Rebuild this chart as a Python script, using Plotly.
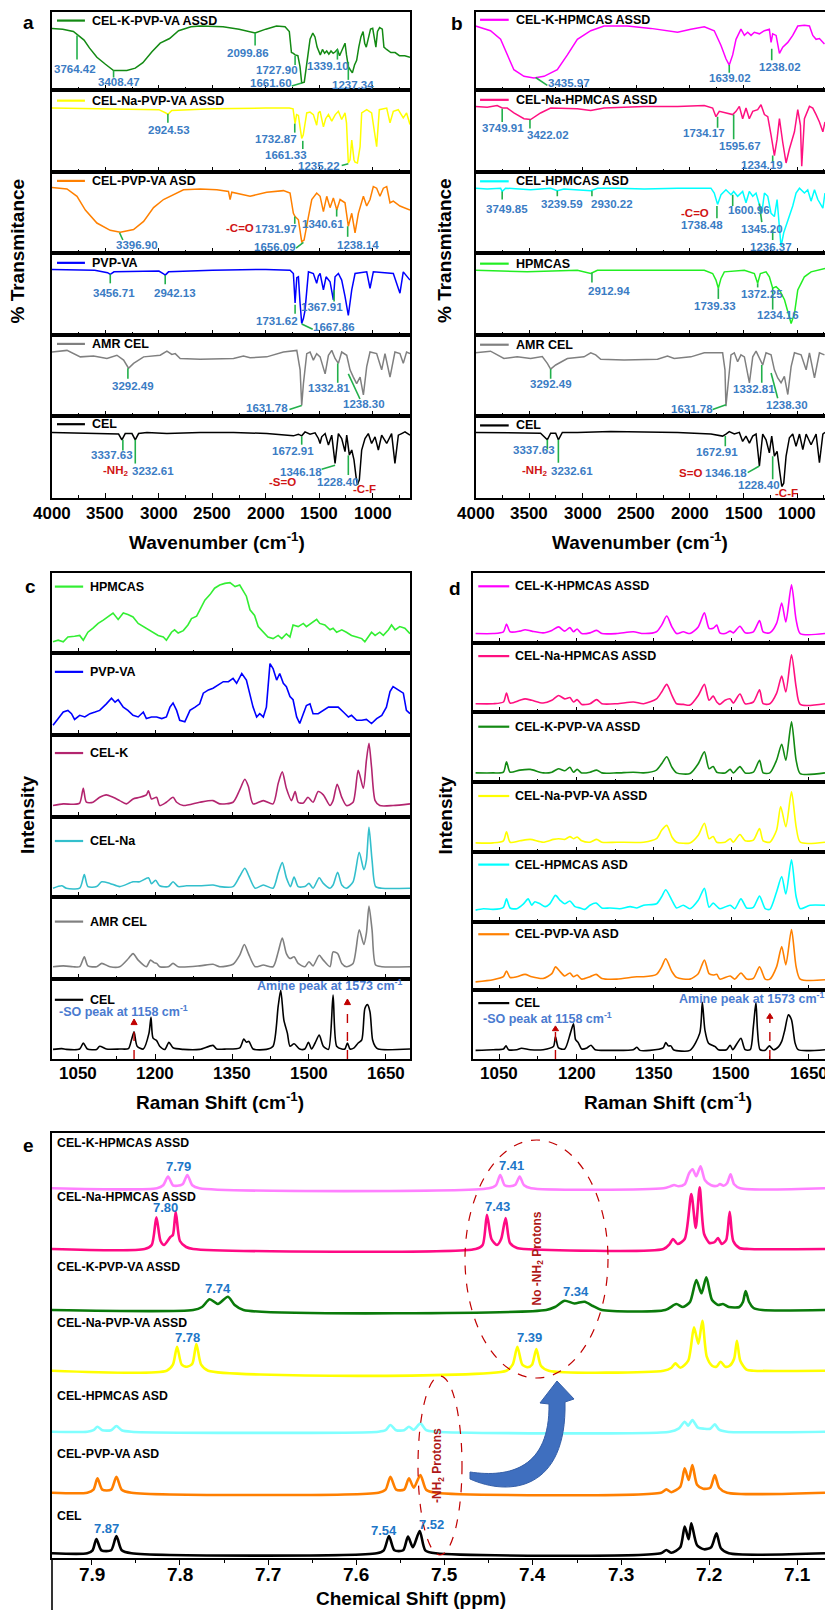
import plotly.graph_objects as go

W, H = 825, 1610
FONT = "Liberation Sans, Arial, Helvetica, sans-serif"

# ---------------- DATA: FTIR (wavenumber, relative transmittance within strip) ----------------
ir_a_names = ["CEL-K-PVP-VA ASSD", "CEL-Na-PVP-VA ASSD", "CEL-PVP-VA ASD", "PVP-VA", "AMR CEL", "CEL"]
ir_b_names = ["CEL-K-HPMCAS ASSD", "CEL-Na-HPMCAS ASSD", "CEL-HPMCAS ASD", "HPMCAS", "AMR CEL", "CEL"]

a1 = [(4000,0.79),(3900,0.78),(3800,0.75),(3766,0.71),(3700,0.64),(3650,0.54),(3580,0.42),(3500,0.33),(3424,0.25),(3300,0.25),(3221,0.28),(3150,0.35),(3065,0.49),(2988,0.60),(2900,0.66),(2816,0.76),(2700,0.81),(2614,0.82),(2400,0.81),(2250,0.78),(2100,0.73),(2000,0.78),(1900,0.82),(1820,0.81),(1780,0.75),(1760,0.48),(1742,0.47),(1726,0.45),(1700,0.44),(1680,0.30),(1664,0.09),(1640,0.10),(1620,0.30),(1600,0.55),(1586,0.65),(1560,0.73),(1540,0.68),(1520,0.55),(1508,0.50),(1490,0.45),(1470,0.52),(1450,0.47),(1430,0.50),(1410,0.46),(1390,0.50),(1370,0.47),(1350,0.49),(1330,0.52),(1310,0.44),(1290,0.50),(1270,0.55),(1259,0.60),(1245,0.45),(1228,0.30),(1210,0.26),(1190,0.22),(1170,0.32),(1150,0.38),(1130,0.55),(1110,0.68),(1090,0.75),(1075,0.60),(1060,0.55),(1040,0.68),(1020,0.78),(1000,0.79),(985,0.65),(970,0.55),(955,0.75),(935,0.80),(910,0.78),(895,0.55),(870,0.52),(830,0.48),(790,0.48),(750,0.44),(700,0.44),(651,0.42)]
a2 = [(4000,0.78),(3500,0.77),(3000,0.76),(2935,0.72),(2916,0.70),(2880,0.75),(2500,0.77),(2000,0.78),(1780,0.78),(1745,0.77),(1726,0.59),(1712,0.70),(1695,0.69),(1680,0.55),(1664,0.41),(1650,0.45),(1617,0.72),(1586,0.73),(1555,0.70),(1524,0.57),(1508,0.72),(1492,0.74),(1461,0.55),(1440,0.65),(1414,0.70),(1383,0.62),(1350,0.70),(1321,0.74),(1290,0.64),(1259,0.72),(1245,0.60),(1228,0.11),(1212,0.15),(1196,0.39),(1175,0.15),(1165,0.12),(1143,0.11),(1118,0.31),(1103,0.72),(1056,0.76),(1010,0.72),(963,0.31),(950,0.50),(938,0.76),(869,0.78),(845,0.65),(838,0.60),(807,0.74),(761,0.76),(714,0.66),(683,0.72),(651,0.58)]
a3 = [(4000,0.81),(3860,0.79),(3766,0.70),(3688,0.53),(3580,0.37),(3455,0.28),(3361,0.255),(3237,0.29),(3143,0.39),(3050,0.56),(2957,0.66),(2863,0.72),(2770,0.78),(2614,0.79),(2458,0.78),(2349,0.76),(2334,0.66),(2318,0.75),(2147,0.70),(1991,0.75),(1835,0.77),(1773,0.74),(1742,0.49),(1726,0.45),(1695,0.41),(1664,0.14),(1642,0.16),(1601,0.45),(1570,0.66),(1524,0.74),(1492,0.70),(1461,0.51),(1430,0.70),(1399,0.56),(1368,0.68),(1336,0.53),(1305,0.66),(1259,0.62),(1228,0.33),(1196,0.49),(1165,0.25),(1134,0.49),(1087,0.70),(1056,0.58),(1025,0.66),(994,0.82),(963,0.80),(932,0.70),(900,0.80),(869,0.82),(838,0.62),(807,0.64),(745,0.58),(651,0.53)]
a4 = [(4000,0.80),(3600,0.79),(3480,0.76),(3455,0.74),(3420,0.77),(3200,0.78),(3000,0.78),(2960,0.75),(2941,0.73),(2910,0.77),(2500,0.79),(2000,0.80),(1773,0.79),(1742,0.75),(1726,0.39),(1710,0.70),(1695,0.71),(1680,0.40),(1664,0.14),(1648,0.20),(1633,0.30),(1601,0.77),(1555,0.75),(1524,0.63),(1508,0.72),(1492,0.75),(1461,0.55),(1436,0.71),(1399,0.65),(1368,0.43),(1352,0.71),(1321,0.75),(1290,0.67),(1259,0.47),(1228,0.24),(1196,0.55),(1165,0.75),(1056,0.77),(1025,0.57),(994,0.77),(807,0.75),(745,0.51),(714,0.77),(651,0.67)]
a5 = [(4000,0.79),(3860,0.81),(3735,0.73),(3611,0.74),(3486,0.71),(3393,0.75),(3330,0.69),(3284,0.59),(3237,0.65),(3143,0.73),(2988,0.75),(2925,0.80),(2879,0.76),(2847,0.77),(2801,0.71),(2614,0.70),(2302,0.71),(2209,0.74),(2147,0.72),(1991,0.73),(1835,0.79),(1710,0.81),(1679,0.57),(1664,0.13),(1648,0.40),(1617,0.77),(1586,0.79),(1555,0.69),(1524,0.77),(1492,0.73),(1445,0.52),(1414,0.75),(1383,0.81),(1352,0.71),(1321,0.65),(1290,0.79),(1243,0.75),(1212,0.57),(1181,0.48),(1150,0.40),(1118,0.48),(1087,0.26),(1056,0.61),(1025,0.79),(963,0.77),(916,0.57),(885,0.77),(838,0.48),(792,0.79),(745,0.77),(714,0.65),(683,0.79),(651,0.77)]
a6 = [(4000,0.80),(3500,0.79),(3424,0.786),(3377,0.78),(3346,0.71),(3315,0.786),(3252,0.786),(3221,0.71),(3190,0.786),(3112,0.80),(2925,0.786),(2614,0.80),(2302,0.80),(1991,0.786),(1742,0.758),(1695,0.778),(1664,0.758),(1633,0.806),(1586,0.778),(1539,0.794),(1508,0.726),(1492,0.665),(1477,0.746),(1445,0.786),(1414,0.645),(1383,0.766),(1352,0.423),(1321,0.786),(1290,0.726),(1259,0.565),(1243,0.766),(1218,0.524),(1196,0.585),(1175,0.464),(1156,0.262),(1143,0.161),(1125,0.222),(1103,0.585),(1072,0.726),(1041,0.786),(1010,0.665),(978,0.746),(947,0.585),(916,0.766),(869,0.665),(823,0.786),(792,0.423),(760,0.766),(729,0.786),(698,0.806),(651,0.766)]

b1 = [(4000,0.82),(3860,0.76),(3766,0.65),(3704,0.45),(3642,0.26),(3548,0.175),(3455,0.155),(3361,0.175),(3237,0.26),(3143,0.45),(3050,0.65),(2925,0.76),(2801,0.82),(2583,0.82),(2365,0.79),(2115,0.74),(1991,0.78),(1866,0.81),(1773,0.76),(1710,0.57),(1664,0.40),(1633,0.32),(1601,0.45),(1570,0.65),(1524,0.78),(1492,0.70),(1461,0.74),(1430,0.70),(1399,0.74),(1352,0.72),(1305,0.76),(1259,0.78),(1243,0.61),(1228,0.72),(1196,0.70),(1165,0.47),(1134,0.55),(1087,0.61),(1041,0.70),(994,0.82),(932,0.83),(885,0.82),(854,0.70),(823,0.65),(792,0.66),(745,0.59)]
b2 = [(4000,0.80),(3891,0.79),(3798,0.81),(3751,0.78),(3704,0.78),(3642,0.72),(3548,0.65),(3486,0.64),(3393,0.72),(3299,0.78),(3050,0.77),(2925,0.75),(2801,0.78),(2427,0.80),(2115,0.80),(1866,0.81),(1788,0.78),(1757,0.675),(1726,0.74),(1664,0.72),(1601,0.70),(1570,0.74),(1539,0.80),(1508,0.65),(1477,0.78),(1446,0.65),(1414,0.74),(1368,0.76),(1337,0.82),(1305,0.70),(1274,0.675),(1243,0.45),(1212,0.20),(1187,0.40),(1165,0.65),(1134,0.36),(1103,0.11),(1072,0.28),(1025,0.49),(994,0.76),(969,0.57),(957,0.07),(932,0.65),(885,0.80),(854,0.78),(823,0.70),(792,0.61),(760,0.49),(740,0.61)]
b3 = [(4000,0.80),(3891,0.79),(3766,0.80),(3751,0.76),(3720,0.80),(3611,0.79),(3486,0.78),(3299,0.80),(3237,0.77),(3175,0.79),(3050,0.78),(2925,0.77),(2863,0.80),(2676,0.80),(2427,0.79),(2115,0.80),(1804,0.80),(1773,0.74),(1742,0.60),(1710,0.72),(1664,0.78),(1617,0.72),(1592,0.76),(1555,0.70),(1508,0.76),(1477,0.62),(1446,0.76),(1414,0.70),(1383,0.74),(1352,0.60),(1330,0.49),(1305,0.74),(1274,0.70),(1243,0.49),(1212,0.45),(1187,0.66),(1165,0.25),(1150,0.08),(1125,0.25),(1103,0.33),(1072,0.45),(1041,0.58),(1010,0.74),(978,0.80),(932,0.74),(901,0.78),(870,0.64),(838,0.78),(807,0.66),(760,0.555),(740,0.74)]
b4 = [(4000,0.79),(3518,0.77),(3050,0.79),(2925,0.75),(2863,0.79),(2427,0.79),(1866,0.79),(1788,0.75),(1757,0.67),(1735,0.57),(1710,0.69),(1679,0.77),(1492,0.79),(1399,0.75),(1368,0.63),(1343,0.75),(1290,0.77),(1259,0.71),(1228,0.57),(1196,0.59),(1165,0.55),(1118,0.43),(1056,0.14),(1025,0.26),(994,0.55),(963,0.63),(932,0.71),(870,0.77),(807,0.79),(740,0.81)]
b5 = [(4000,0.78),(3860,0.80),(3735,0.71),(3611,0.73),(3486,0.71),(3377,0.735),(3330,0.65),(3299,0.58),(3252,0.63),(3143,0.71),(2988,0.73),(2925,0.78),(2879,0.755),(2832,0.70),(2614,0.69),(2302,0.70),(2209,0.74),(2147,0.71),(1991,0.73),(1866,0.78),(1695,0.78),(1673,0.57),(1664,0.12),(1642,0.45),(1617,0.755),(1586,0.78),(1555,0.67),(1524,0.755),(1492,0.73),(1445,0.41),(1414,0.73),(1383,0.80),(1352,0.71),(1321,0.63),(1290,0.78),(1243,0.755),(1212,0.57),(1181,0.47),(1150,0.41),(1119,0.49),(1087,0.265),(1056,0.61),(1025,0.78),(963,0.755),(916,0.57),(885,0.78),(838,0.47),(792,0.78),(745,0.755)]
b6 = [(4000,0.80),(3393,0.79),(3330,0.71),(3299,0.79),(3252,0.79),(3227,0.71),(3190,0.80),(3050,0.80),(2738,0.81),(2115,0.80),(1804,0.78),(1695,0.755),(1664,0.78),(1633,0.81),(1586,0.78),(1539,0.80),(1508,0.69),(1477,0.755),(1445,0.67),(1414,0.755),(1383,0.78),(1352,0.39),(1321,0.78),(1290,0.71),(1259,0.55),(1237,0.755),(1212,0.51),(1187,0.57),(1165,0.35),(1143,0.14),(1125,0.18),(1103,0.51),(1072,0.735),(1041,0.78),(1010,0.63),(978,0.78),(947,0.59),(916,0.78),(870,0.65),(823,0.78),(792,0.43),(760,0.78),(740,0.80)]

# peak labels: (text, text_x, text_y, line_x0, line_y0, line_x1, line_y1)
a1_lab = [("3764.42",3782,0.27,3766,0.70,3766,0.39),("3408.47",3377,0.10,3424,0.25,3424,0.16),("2099.86",2162,0.48,2100,0.73,2100,0.57),("1727.90",1891,0.26,1726,0.44,1726,0.32),("1661.60",1953,0.09,1757,0.05,1664,0.09),("1339.10",1414,0.31,1330,0.52,1330,0.39),("1237.34",1187,0.06,1228,0.36,1228,0.13)]
a2_lab = [("2924.53",2910,0.51,2916,0.71,2916,0.60),("1732.87",1904,0.40,1729,0.59,1729,0.48),("1661.33",1810,0.21,1654,0.38,1654,0.28),("1235.22",1499,0.07,1290,0.08,1228,0.10)]
a3_lab = [("3396.90",3206,0.095,3368,0.25,3337,0.16),("1731.97",1904,0.30,1729,0.45,1729,0.36),("1656.09",1913,0.08,1717,0.06,1648,0.13),("1340.61",1467,0.36,1337,0.54,1337,0.45),("1238.14",1140,0.10,1234,0.33,1234,0.20)]
a4_lab = [("3456.71",3424,0.51,3455,0.74,3455,0.63),("2942.13",2854,0.51,2941,0.73,2941,0.62),("1731.62",1897,0.17,1726,0.37,1726,0.26),("1667.86",1358,0.10,1664,0.134,1561,0.07),("1367.91",1477,0.34,1361,0.55,1361,0.41)]
a5_lab = [("3292.49",3246,0.37,3290,0.59,3290,0.46),("1631.78",1991,0.10,1779,0.08,1664,0.13),("1332.81",1408,0.34,1327,0.65,1327,0.41),("1238.30",1078,0.15,1228,0.52,1119,0.21)]
a6_lab = [("3337.63",3439,0.52,3337,0.71,3337,0.58),("3232.61",3059,0.33,3221,0.71,3221,0.42),("1672.91",1742,0.57,1664,0.75,1664,0.65),("1346.18",1673,0.32,1477,0.35,1352,0.40),("1228.40",1321,0.19,1228,0.52,1228,0.28)]
b1_lab = [("3435.97",3128,0.09,3439,0.16,3330,0.06),("1639.02",1623,0.15,1633,0.32,1633,0.22),("1238.02",1156,0.29,1237,0.53,1237,0.38)]
b2_lab = [("3749.91",3741,0.54,3751,0.77,3751,0.61),("3422.02",3324,0.45,3492,0.64,3492,0.53),("1734.17",1872,0.47,1742,0.675,1742,0.54),("1595.67",1530,0.32,1592,0.70,1592,0.40),("1234.19",1330,0.08,1228,0.20,1228,0.11)]
b3_lab = [("3749.85",3710,0.54,3751,0.76,3751,0.66),("3239.59",3190,0.60,3237,0.77,3237,0.70),("2930.22",2729,0.60,2914,0.77,2914,0.70),("1738.48",1891,0.35,1748,0.58,1748,0.43),("1600.96",1446,0.53,1601,0.72,1601,0.58),("1345.20",1327,0.30,1352,0.61,1330,0.38),("1236.37",1243,0.08,1228,0.29,1228,0.16)]
b4_lab = [("2912.94",2754,0.54,2914,0.76,2914,0.64),("1739.33",1763,0.35,1735,0.57,1735,0.44),("1372.25",1327,0.50,1368,0.63,1368,0.58),("1234.16",1175,0.24,1228,0.57,1228,0.31)]
b5_lab = [("3292.49",3293,0.39,3299,0.58,3299,0.46),("1631.78",1981,0.09,1788,0.08,1664,0.14),("1332.81",1399,0.33,1330,0.63,1330,0.41),("1238.30",1090,0.14,1243,0.53,1181,0.22)]
b6_lab = [("3337.63",3455,0.58,3330,0.71,3330,0.59),("3232.61",3103,0.33,3227,0.71,3227,0.43),("1672.91",1748,0.56,1670,0.755,1670,0.63),("1346.18",1664,0.31,1461,0.31,1352,0.39),("1228.40",1352,0.155,1228,0.51,1228,0.23)]
# group labels in red: (text, x, y)
a3_red = [("-C=O",2246,0.31)]
a6_red = [("-NH<sub>2</sub>",3402,0.33),("-S=O",1841,0.20),("-C-F",1078,0.11)]
b3_red = [("-C=O",1953,0.50)]
b6_red = [("-NH<sub>2</sub>",3449,0.33),("S=O",1997,0.31),("-C-F",1103,0.06)]

# ---------------- DATA: Raman (shift, relative intensity within strip) ----------------
raman_c_names = ["HPMCAS", "PVP-VA", "CEL-K", "CEL-Na", "AMR CEL", "CEL"]
raman_d_names = ["CEL-K-HPMCAS ASSD", "CEL-Na-HPMCAS ASSD", "CEL-K-PVP-VA ASSD", "CEL-Na-PVP-VA ASSD", "CEL-HPMCAS ASD", "CEL-PVP-VA ASD", "CEL"]

c1 = [(1001,0.14),(1011,0.16),(1021,0.14),(1030,0.20),(1043,0.21),(1053,0.22),(1060,0.16),(1069,0.26),(1079,0.31),(1089,0.37),(1099,0.41),(1108,0.45),(1118,0.50),(1128,0.42),(1138,0.50),(1147,0.48),(1157,0.45),(1167,0.37),(1177,0.33),(1186,0.29),(1196,0.25),(1206,0.22),(1216,0.20),(1222,0.16),(1232,0.26),(1238,0.29),(1245,0.25),(1255,0.28),(1264,0.35),(1271,0.43),(1281,0.46),(1290,0.58),(1297,0.66),(1307,0.73),(1316,0.81),(1326,0.85),(1336,0.87),(1346,0.88),(1356,0.83),(1365,0.85),(1372,0.77),(1378,0.71),(1385,0.54),(1394,0.47),(1401,0.33),(1411,0.26),(1420,0.20),(1430,0.18),(1440,0.22),(1447,0.18),(1456,0.24),(1463,0.20),(1469,0.35),(1479,0.33),(1489,0.37),(1495,0.33),(1505,0.37),(1515,0.42),(1521,0.37),(1531,0.35),(1541,0.29),(1547,0.31),(1554,0.26),(1564,0.29),(1573,0.26),(1583,0.22),(1593,0.20),(1603,0.18),(1609,0.14),(1616,0.20),(1622,0.26),(1629,0.22),(1638,0.26),(1645,0.22),(1655,0.29),(1661,0.35),(1668,0.29),(1677,0.33),(1687,0.31),(1697,0.24)]
c2 = [(1001,0.12),(1011,0.20),(1021,0.28),(1030,0.30),(1037,0.26),(1043,0.19),(1053,0.24),(1063,0.22),(1073,0.26),(1083,0.28),(1092,0.30),(1105,0.38),(1115,0.45),(1122,0.40),(1128,0.43),(1138,0.34),(1147,0.30),(1157,0.24),(1167,0.22),(1177,0.28),(1183,0.20),(1193,0.22),(1203,0.22),(1213,0.20),(1222,0.22),(1229,0.34),(1235,0.39),(1242,0.30),(1248,0.18),(1258,0.16),(1268,0.30),(1278,0.34),(1287,0.38),(1294,0.51),(1304,0.55),(1313,0.57),(1323,0.61),(1333,0.65),(1343,0.65),(1352,0.69),(1359,0.63),(1369,0.75),(1378,0.67),(1385,0.51),(1391,0.34),(1398,0.22),(1404,0.26),(1411,0.22),(1417,0.34),(1424,0.87),(1430,0.81),(1437,0.67),(1443,0.75),(1450,0.63),(1456,0.59),(1463,0.47),(1469,0.43),(1476,0.22),(1482,0.14),(1489,0.26),(1495,0.36),(1502,0.38),(1508,0.26),(1518,0.26),(1528,0.30),(1538,0.34),(1547,0.34),(1557,0.34),(1567,0.28),(1577,0.22),(1583,0.24),(1593,0.18),(1603,0.18),(1612,0.19),(1622,0.14),(1632,0.20),(1642,0.24),(1651,0.34),(1658,0.53),(1664,0.59),(1674,0.55),(1684,0.51),(1690,0.30),(1697,0.26)]
c3 = [(1001,0.14),(1021,0.16),(1040,0.155),(1053,0.17),(1060,0.35),(1066,0.18),(1079,0.18),(1092,0.24),(1105,0.27),(1118,0.24),(1131,0.20),(1144,0.16),(1157,0.22),(1170,0.24),(1183,0.27),(1187,0.32),(1193,0.22),(1203,0.24),(1209,0.14),(1222,0.18),(1235,0.24),(1242,0.18),(1255,0.14),(1287,0.18),(1313,0.20),(1326,0.16),(1352,0.18),(1365,0.33),(1375,0.46),(1382,0.37),(1391,0.16),(1411,0.20),(1430,0.16),(1440,0.41),(1448,0.55),(1456,0.35),(1466,0.20),(1473,0.31),(1479,0.18),(1489,0.17),(1498,0.24),(1508,0.18),(1518,0.31),(1528,0.27),(1541,0.14),(1547,0.20),(1555,0.40),(1564,0.24),(1573,0.14),(1586,0.18),(1596,0.57),(1606,0.35),(1612,0.69),(1617,0.90),(1622,0.61),(1629,0.20),(1638,0.14),(1664,0.14),(1697,0.16)]
c4 = [(1001,0.11),(1018,0.14),(1027,0.11),(1053,0.11),(1062,0.28),(1069,0.13),(1086,0.13),(1096,0.19),(1112,0.17),(1131,0.13),(1157,0.19),(1170,0.19),(1187,0.24),(1193,0.165),(1201,0.21),(1209,0.14),(1226,0.13),(1235,0.19),(1245,0.13),(1261,0.14),(1287,0.14),(1313,0.15),(1326,0.13),(1352,0.13),(1365,0.26),(1375,0.36),(1383,0.26),(1395,0.11),(1411,0.15),(1430,0.11),(1440,0.30),(1448,0.43),(1456,0.24),(1464,0.13),(1471,0.25),(1479,0.13),(1492,0.13),(1500,0.17),(1508,0.11),(1520,0.24),(1528,0.17),(1541,0.11),(1547,0.15),(1556,0.31),(1564,0.15),(1573,0.11),(1586,0.19),(1598,0.56),(1607,0.34),(1612,0.46),(1617,0.87),(1623,0.46),(1630,0.13),(1642,0.11),(1697,0.11)]
c5 = [(1001,0.15),(1021,0.16),(1040,0.15),(1053,0.15),(1062,0.27),(1069,0.16),(1086,0.15),(1096,0.19),(1112,0.15),(1131,0.15),(1148,0.25),(1157,0.31),(1167,0.23),(1183,0.15),(1191,0.23),(1198,0.20),(1203,0.19),(1209,0.15),(1226,0.15),(1235,0.19),(1245,0.15),(1287,0.16),(1313,0.18),(1326,0.15),(1352,0.18),(1365,0.29),(1374,0.42),(1382,0.31),(1395,0.15),(1411,0.17),(1430,0.15),(1440,0.33),(1448,0.50),(1456,0.31),(1463,0.25),(1471,0.27),(1479,0.19),(1492,0.15),(1500,0.21),(1508,0.16),(1520,0.29),(1528,0.23),(1541,0.15),(1547,0.33),(1556,0.31),(1564,0.19),(1573,0.15),(1586,0.19),(1598,0.60),(1607,0.42),(1612,0.56),(1617,0.89),(1623,0.60),(1630,0.17),(1642,0.15),(1697,0.15)]
c6 = [(1001,0.12),(1018,0.13),(1027,0.12),(1053,0.125),(1060,0.20),(1068,0.125),(1086,0.12),(1092,0.16),(1105,0.125),(1131,0.125),(1148,0.13),(1154,0.24),(1159,0.34),(1165,0.16),(1177,0.125),(1188,0.32),(1192,0.52),(1196,0.26),(1203,0.23),(1209,0.16),(1219,0.12),(1227,0.21),(1235,0.14),(1255,0.12),(1287,0.12),(1313,0.17),(1320,0.125),(1339,0.125),(1365,0.14),(1373,0.25),(1378,0.21),(1383,0.22),(1391,0.125),(1417,0.12),(1430,0.16),(1440,0.66),(1445,0.86),(1451,0.49),(1458,0.32),(1463,0.16),(1471,0.19),(1482,0.125),(1492,0.125),(1499,0.21),(1505,0.125),(1512,0.20),(1520,0.30),(1528,0.16),(1538,0.12),(1547,0.80),(1554,0.16),(1564,0.125),(1570,0.125),(1575,0.20),(1580,0.125),(1588,0.14),(1596,0.20),(1603,0.24),(1609,0.63),(1614,0.68),(1619,0.59),(1624,0.24),(1629,0.16),(1635,0.125),(1697,0.125)]

d1 = [(1004,0.135),(1038,0.135),(1058,0.16),(1064,0.27),(1071,0.16),(1090,0.17),(1100,0.19),(1113,0.17),(1135,0.145),(1152,0.18),(1165,0.23),(1177,0.17),(1187,0.22),(1194,0.16),(1201,0.20),(1210,0.135),(1226,0.145),(1239,0.18),(1249,0.135),(1278,0.135),(1310,0.16),(1330,0.135),(1355,0.16),(1365,0.255),(1375,0.385),(1385,0.23),(1394,0.135),(1407,0.16),(1420,0.135),(1436,0.23),(1448,0.43),(1457,0.21),(1465,0.21),(1472,0.255),(1478,0.145),(1488,0.135),(1498,0.17),(1504,0.145),(1517,0.24),(1527,0.145),(1543,0.16),(1555,0.32),(1562,0.16),(1575,0.145),(1588,0.28),(1598,0.57),(1606,0.30),(1617,0.83),(1626,0.33),(1634,0.135),(1682,0.135)]
d2 = [(1004,0.12),(1038,0.12),(1058,0.145),(1064,0.275),(1071,0.13),(1090,0.17),(1100,0.19),(1113,0.17),(1135,0.13),(1152,0.17),(1165,0.24),(1177,0.19),(1187,0.21),(1194,0.145),(1201,0.18),(1210,0.11),(1226,0.12),(1239,0.18),(1249,0.12),(1278,0.12),(1310,0.145),(1330,0.12),(1355,0.19),(1365,0.29),(1375,0.40),(1385,0.24),(1394,0.12),(1407,0.11),(1420,0.10),(1436,0.24),(1448,0.40),(1457,0.17),(1465,0.23),(1472,0.145),(1478,0.11),(1488,0.17),(1498,0.19),(1504,0.13),(1517,0.26),(1527,0.12),(1543,0.145),(1555,0.32),(1562,0.12),(1575,0.12),(1588,0.27),(1598,0.52),(1606,0.29),(1617,0.83),(1626,0.36),(1634,0.11),(1682,0.12)]
d3 = [(1004,0.13),(1038,0.13),(1058,0.14),(1064,0.29),(1071,0.14),(1090,0.17),(1110,0.18),(1135,0.13),(1152,0.14),(1165,0.19),(1177,0.16),(1187,0.21),(1194,0.14),(1201,0.18),(1210,0.13),(1226,0.14),(1239,0.17),(1249,0.13),(1278,0.13),(1310,0.14),(1330,0.13),(1355,0.17),(1365,0.26),(1375,0.36),(1385,0.21),(1394,0.13),(1420,0.12),(1436,0.26),(1448,0.43),(1457,0.19),(1465,0.22),(1472,0.14),(1488,0.13),(1498,0.18),(1504,0.13),(1517,0.22),(1527,0.13),(1543,0.14),(1555,0.31),(1562,0.13),(1575,0.13),(1588,0.31),(1598,0.54),(1606,0.31),(1617,0.86),(1626,0.31),(1634,0.12),(1682,0.13)]
d4 = [(1004,0.13),(1038,0.13),(1058,0.16),(1064,0.29),(1071,0.14),(1090,0.16),(1110,0.18),(1135,0.14),(1155,0.18),(1165,0.19),(1177,0.18),(1187,0.22),(1194,0.19),(1201,0.215),(1210,0.16),(1226,0.14),(1239,0.18),(1249,0.14),(1278,0.14),(1330,0.14),(1355,0.19),(1365,0.31),(1375,0.38),(1385,0.215),(1394,0.14),(1420,0.13),(1436,0.24),(1448,0.41),(1457,0.19),(1465,0.22),(1472,0.14),(1488,0.14),(1498,0.19),(1504,0.14),(1517,0.25),(1527,0.16),(1543,0.17),(1555,0.335),(1562,0.16),(1575,0.14),(1588,0.31),(1596,0.65),(1606,0.36),(1617,0.86),(1626,0.36),(1634,0.14),(1682,0.14)]
d5 = [(1004,0.17),(1019,0.19),(1038,0.18),(1058,0.21),(1064,0.33),(1071,0.20),(1084,0.19),(1097,0.26),(1106,0.33),(1113,0.24),(1119,0.29),(1129,0.26),(1139,0.22),(1148,0.26),(1159,0.38),(1168,0.31),(1177,0.26),(1187,0.30),(1197,0.22),(1207,0.20),(1216,0.18),(1226,0.24),(1238,0.27),(1249,0.20),(1265,0.20),(1284,0.19),(1304,0.22),(1317,0.20),(1330,0.24),(1355,0.26),(1365,0.36),(1373,0.46),(1385,0.31),(1394,0.20),(1407,0.24),(1420,0.19),(1436,0.31),(1448,0.48),(1457,0.21),(1465,0.27),(1478,0.19),(1498,0.24),(1507,0.19),(1519,0.33),(1530,0.20),(1543,0.21),(1555,0.37),(1566,0.19),(1575,0.18),(1588,0.43),(1598,0.65),(1606,0.40),(1617,0.89),(1626,0.36),(1634,0.19),(1653,0.24),(1682,0.24)]
d6 = [(1004,0.12),(1038,0.15),(1058,0.195),(1064,0.28),(1071,0.185),(1084,0.195),(1100,0.23),(1113,0.195),(1135,0.17),(1152,0.24),(1159,0.34),(1168,0.27),(1177,0.205),(1187,0.25),(1194,0.195),(1201,0.22),(1210,0.16),(1226,0.195),(1238,0.23),(1249,0.17),(1278,0.16),(1317,0.195),(1330,0.195),(1355,0.23),(1365,0.34),(1373,0.46),(1385,0.27),(1394,0.185),(1420,0.16),(1436,0.24),(1448,0.44),(1457,0.24),(1465,0.22),(1472,0.23),(1478,0.16),(1498,0.205),(1507,0.16),(1519,0.25),(1530,0.16),(1543,0.17),(1555,0.34),(1566,0.16),(1575,0.16),(1588,0.34),(1598,0.64),(1606,0.37),(1617,0.89),(1626,0.34),(1634,0.16),(1682,0.15)]
d7 = [(1004,0.125),(1038,0.135),(1058,0.145),(1063,0.19),(1068,0.135),(1084,0.135),(1093,0.155),(1110,0.135),(1135,0.135),(1155,0.18),(1159,0.32),(1165,0.16),(1177,0.145),(1188,0.375),(1194,0.51),(1198,0.28),(1203,0.24),(1210,0.145),(1220,0.16),(1228,0.20),(1236,0.135),(1265,0.125),(1310,0.135),(1317,0.17),(1323,0.125),(1342,0.125),(1368,0.16),(1373,0.24),(1378,0.19),(1383,0.19),(1388,0.135),(1420,0.125),(1439,0.375),(1444,0.82),(1449,0.42),(1456,0.23),(1469,0.18),(1475,0.135),(1491,0.135),(1498,0.20),(1503,0.135),(1511,0.22),(1519,0.30),(1527,0.135),(1537,0.135),(1543,0.47),(1548,0.82),(1551,0.42),(1556,0.135),(1566,0.125),(1574,0.19),(1582,0.135),(1592,0.18),(1598,0.255),(1604,0.42),(1611,0.64),(1617,0.57),(1624,0.23),(1630,0.135),(1682,0.135)]

# ---------------- DATA: 1H NMR (ppm, height above own baseline) ----------------
nmr_names = ["CEL-K-HPMCAS ASSD", "CEL-Na-HPMCAS ASSD", "CEL-K-PVP-VA ASSD", "CEL-Na-PVP-VA ASSD", "CEL-HPMCAS ASD", "CEL-PVP-VA ASD", "CEL"]
e1 = [(7.945,0),(7.826,0),(7.819,3),(7.8135,11.7),(7.808,3),(7.803,2.5),(7.797,4),(7.7916,13.3),(7.786,3),(7.778,0),(7.450,0),(7.442,3),(7.437,13.3),(7.432,3),(7.426,2),(7.420,3.5),(7.415,11.7),(7.410,3),(7.402,0),(7.252,0),(7.244,2),(7.240,3.3),(7.235,2),(7.228,4),(7.223,15),(7.219,19),(7.215,12),(7.210,22),(7.205,8),(7.198,3),(7.191,2.5),(7.188,4.3),(7.184,2.5),(7.180,5),(7.176,14),(7.172,4),(7.165,0),(7.069,0)]
e2 = [(7.945,0),(7.840,0),(7.832,4),(7.8267,31.7),(7.822,8),(7.818,4),(7.8108,12),(7.808,14),(7.8048,37.3),(7.800,8),(7.793,2),(7.785,0),(7.465,0),(7.457,4),(7.4521,34.3),(7.447,10),(7.4407,4),(7.436,10),(7.4309,31),(7.426,6),(7.418,1),(7.410,0),(7.252,0),(7.245,5),(7.2413,10),(7.236,5),(7.228,10),(7.2205,55),(7.2155,21),(7.211,61.7),(7.206,15),(7.200,6),(7.1978,6),(7.194,7),(7.1903,11),(7.186,5),(7.181,9),(7.177,37.3),(7.173,8),(7.166,1),(7.155,0),(7.069,0)]
e3 = [(7.945,0),(7.785,0),(7.775,3),(7.7663,10.7),(7.757,6),(7.7456,13.3),(7.738,5),(7.728,0),(7.385,0),(7.375,3),(7.364,9.3),(7.353,6.5),(7.3414,8.3),(7.332,4),(7.322,0),(7.250,0),(7.2375,6),(7.230,3),(7.222,8),(7.2148,30),(7.209,16.7),(7.2035,32.7),(7.197,10),(7.190,5),(7.1847,6),(7.178,3),(7.166,3),(7.162,8),(7.1589,19),(7.155,8),(7.150,2),(7.140,0),(7.069,0)]
e4 = [(7.945,0),(7.815,0),(7.808,6),(7.8033,24),(7.798,6),(7.792,4),(7.786,7),(7.7814,26.7),(7.776,6),(7.768,0),(7.430,0),(7.423,6),(7.4176,24),(7.412,6),(7.406,3.5),(7.401,6),(7.3961,21.7),(7.391,5),(7.382,0),(7.252,0),(7.243,3),(7.2386,7.3),(7.233,3),(7.224,10),(7.2175,43.3),(7.2125,27),(7.208,50),(7.203,14),(7.197,5),(7.192,4),(7.1873,9),(7.182,4),(7.177,5),(7.172,12),(7.1688,30),(7.165,10),(7.158,1),(7.150,0),(7.069,0)]
e5 = [(7.945,0),(7.905,0),(7.898,1.5),(7.8935,5),(7.888,1.5),(7.878,1.5),(7.872,5.7),(7.866,1.5),(7.855,0),(7.575,0),(7.567,1.5),(7.5615,6.7),(7.555,1.5),(7.546,1.5),(7.5405,5),(7.535,2),(7.5275,8.3),(7.521,1.5),(7.510,0),(7.245,0),(7.235,3),(7.228,10),(7.224,6),(7.2193,11.7),(7.213,4),(7.206,3),(7.199,3),(7.1939,7.3),(7.189,2),(7.180,0),(7.069,0)]
e6 = [(7.945,0),(7.905,0),(7.898,3),(7.8935,14.3),(7.888,3),(7.878,3),(7.872,16),(7.866,3),(7.855,0),(7.575,0),(7.567,3),(7.5615,16),(7.555,3),(7.546,3),(7.5405,14.3),(7.535,5),(7.5275,17.7),(7.521,3),(7.510,0),(7.255,0),(7.2488,3.3),(7.243,0.5),(7.233,6),(7.228,24.3),(7.2235,12.7),(7.2193,27.7),(7.214,8),(7.207,4),(7.199,5),(7.1939,17.7),(7.189,5),(7.180,0),(7.069,0)]
e7 = [(7.945,0),(7.905,0),(7.899,3),(7.8947,14.3),(7.889,3),(7.878,3),(7.872,17.3),(7.866,3),(7.855,0),(7.577,0),(7.569,3),(7.5631,17.3),(7.557,3),(7.547,3),(7.5416,16.7),(7.536,6),(7.5283,22.3),(7.522,3),(7.510,0),(7.255,0),(7.2488,3.3),(7.243,0.5),(7.233,6),(7.228,26.7),(7.2235,14),(7.2205,30),(7.214,8),(7.206,4),(7.198,6),(7.192,20),(7.187,5),(7.178,0),(7.069,0)]
# NMR peak labels: (text, ppm, height)
nmr_peak_labels = [("7.79",7.8014,392),("7.41",7.4244,393),("7.80",7.8161,350.3),("7.43",7.4396,351.3),("7.74",7.7569,269.7),("7.34",7.3516,267),("7.78",7.792,220.7),("7.39",7.4037,220.7),("7.87",7.8827,29.7),("7.54",7.5688,28),("7.52",7.5151,34)]

ir_ticks = [1000, 1500, 2000, 2500, 3000, 3500, 4000]
raman_ticks = [1050, 1200, 1350, 1500, 1650]
nmr_ticks = [7.1, 7.2, 7.3, 7.4, 7.5, 7.6, 7.7, 7.8, 7.9]

# ---------------- BUILD ----------------
def PX(x):
    return x / W

def PY(y):
    return 1 - y / H

fig = go.Figure()
layout = {}
shapes = []
annos = []

def font(size, color="black"):
    return dict(family=FONT, size=size, color=color, weight="bold")

def text_at(x, y, text, size, color="black", angle=0, xanchor="center", yanchor="middle"):
    annos.append(dict(xref="paper", yref="paper", x=PX(x), y=PY(y), text=text, showarrow=False,
                      xanchor=xanchor, yanchor=yanchor, textangle=angle, font=font(size, color)))

def setup(i, x0, x1, ytop, ybot, xrange, tickvals, minor_dtick, yrange=(0, 1), ticks="inside"):
    xa = "xaxis" if i == 1 else f"xaxis{i}"
    ya = "yaxis" if i == 1 else f"yaxis{i}"
    xs = "x" if i == 1 else f"x{i}"
    ys = "y" if i == 1 else f"y{i}"
    layout[xa] = dict(domain=[PX(x0), PX(x1)], range=list(xrange), anchor=ys, automargin=False,
                      showline=True, mirror=True, linecolor="black", linewidth=1.6,
                      showgrid=False, zeroline=False, ticks=ticks, ticklen=5, tickwidth=1.3,
                      tickcolor="black", tickmode="array", tickvals=tickvals,
                      showticklabels=False,
                      minor=dict(ticks=ticks, ticklen=3, tickwidth=1.2, tickcolor="black",
                                 dtick=minor_dtick, tick0=0, showgrid=False),
                      fixedrange=True)
    layout[ya] = dict(domain=[PY(ybot), PY(ytop)], range=list(yrange), anchor=xs, automargin=False,
                      showline=True, mirror=True, linecolor="black", linewidth=1.6,
                      showgrid=False, zeroline=False, ticks="", showticklabels=False,
                      fixedrange=True)
    return xs, ys

def tick_labels(xs, tickvals, py_center, size, fmt="{:g}"):
    for t in tickvals:
        annos.append(dict(xref=xs, yref="paper", x=t, y=PY(py_center), text=fmt.format(t),
                          showarrow=False, xanchor="center", yanchor="middle", font=font(size)))

def trace(xs, ys, pts, color, width=1.5, shape="linear", offset=0.0):
    fig.add_trace(go.Scatter(x=[p[0] for p in pts], y=[p[1] + offset for p in pts],
                             xaxis=xs, yaxis=ys, mode="lines",
                             line=dict(color=color, width=width, shape=shape, smoothing=0.7),
                             showlegend=False, hoverinfo="skip"))

def legend(xs, ys, color, name, lx0, lx1, tx, ly):
    shapes.append(dict(type="line", xref=f"{xs} domain", yref=f"{ys} domain",
                       x0=lx0, x1=lx1, y0=ly, y1=ly, line=dict(color=color, width=2.2)))
    annos.append(dict(xref=f"{xs} domain", yref=f"{ys} domain", x=tx, y=ly, text=name,
                      showarrow=False, xanchor="left", yanchor="middle", font=font(12.5)))

NUM_BLUE = "#3b7cc4"
GREEN = "#22b04b"
RED = "#d01414"

def ir_labels(xs, ys, labs, reds=()):
    for t, tx, ty, x0, y0, x1, y1 in labs:
        shapes.append(dict(type="line", xref=xs, yref=ys, x0=x0, y0=y0, x1=x1, y1=y1,
                           line=dict(color=GREEN, width=1.6)))
        annos.append(dict(xref=xs, yref=ys, x=tx, y=ty, text=t, showarrow=False,
                          xanchor="center", yanchor="middle", font=font(11.5, NUM_BLUE)))
    for t, tx, ty in reds:
        annos.append(dict(xref=xs, yref=ys, x=tx, y=ty, text=t, showarrow=False,
                          xanchor="center", yanchor="middle", font=font(11.5, RED)))

# ---- Panel a (FTIR, PVP-VA series)
ir_bounds = [12, 90, 172, 253, 335, 416, 498]
a_data = [a1, a2, a3, a4, a5, a6]
a_cols = ["#138a13", "#ffff00", "#ff8000", "#0000ff", "#808080", "#000000"]
a_labs = [a1_lab, a2_lab, a3_lab, a4_lab, a5_lab, a6_lab]
a_reds = [[], [], a3_red, [], [], a6_red]
a_legy = [0.89, 0.87, 0.89, 0.88, 0.89, 0.90]
idx = 1
for k in range(6):
    xs, ys = setup(idx, 52, 410, ir_bounds[k], ir_bounds[k + 1], (4000, 651), ir_ticks, 250)
    trace(xs, ys, a_data[k], a_cols[k], 1.5)
    legend(xs, ys, a_cols[k], ir_a_names[k], 0.014, 0.092, 0.105, a_legy[k])
    ir_labels(xs, ys, a_labs[k], a_reds[k])
    idx += 1
tick_labels(xs, ir_ticks, 513, 17)

# ---- Panel b (FTIR, HPMCAS series)
b_data = [b1, b2, b3, b4, b5, b6]
b_cols = ["#ff00ff", "#ff1080", "#00ffff", "#22ee22", "#808080", "#000000"]
b_labs = [b1_lab, b2_lab, b3_lab, b4_lab, b5_lab, b6_lab]
b_reds = [[], [], b3_red, [], [], b6_red]
b_legy = [0.90, 0.88, 0.885, 0.87, 0.88, 0.885]
for k in range(6):
    xs, ys = setup(idx, 475.5, 825, ir_bounds[k], ir_bounds[k + 1], (4000, 740), ir_ticks, 250)
    trace(xs, ys, b_data[k], b_cols[k], 1.5)
    legend(xs, ys, b_cols[k], ir_b_names[k], 0.013, 0.095, 0.11, b_legy[k])
    ir_labels(xs, ys, b_labs[k], b_reds[k])
    idx += 1
tick_labels(xs, ir_ticks, 513, 17)

# ---- Panel c (Raman, raw materials)
c_bounds = [573, 653, 735, 817, 897, 979, 1059]
c_data = [c1, c2, c3, c4, c5, c6]
c_cols = ["#33ee33", "#0000ff", "#b3256f", "#33bfcc", "#808080", "#000000"]
c_shape = ["linear", "linear", "spline", "spline", "spline", "spline"]
c_legy = [0.83, 0.77, 0.78, 0.70, 0.70, 0.74]
c_axes = []
for k in range(6):
    xs, ys = setup(idx, 52, 410, c_bounds[k], c_bounds[k + 1], (999, 1697), raman_ticks, 75)
    trace(xs, ys, c_data[k], c_cols[k], 1.6, c_shape[k])
    legend(xs, ys, c_cols[k], raman_c_names[k], 0.008, 0.087, 0.101, c_legy[k])
    c_axes.append((xs, ys))
    idx += 1
tick_labels(xs, raman_ticks, 1073, 17)

# ---- Panel d (Raman, dispersions)
d_bounds = [573, 643, 712, 782, 852, 922, 990, 1059]
d_data = [d1, d2, d3, d4, d5, d6, d7]
d_cols = ["#ff00ff", "#ff1080", "#138a13", "#ffff00", "#00ffff", "#ff8000", "#000000"]
d_legy = [0.81, 0.81, 0.79, 0.80, 0.82, 0.82, 0.81]
d_axes = []
for k in range(7):
    xs, ys = setup(idx, 473, 825, d_bounds[k], d_bounds[k + 1], (999, 1682), raman_ticks, 75)
    trace(xs, ys, d_data[k], d_cols[k], 1.6, "spline")
    legend(xs, ys, d_cols[k], raman_d_names[k], 0.015, 0.103, 0.113, d_legy[k])
    d_axes.append((xs, ys))
    idx += 1
tick_labels(xs, raman_ticks, 1073, 17)

PEAK_BLUE = "#4a7bd0"
DRED = "#c00000"

def raman_marks(xs, ys, so_xy, am_xy, am_anchor, so_top, am_top):
    annos.append(dict(xref=xs, yref=ys, x=so_xy[0], y=so_xy[1],
                      text="-SO peak at 1158 cm<sup>-1</sup>", showarrow=False,
                      xanchor="center", yanchor="middle", font=font(12.5, PEAK_BLUE)))
    annos.append(dict(xref=xs, yref=ys, x=am_xy[0], y=am_xy[1],
                      text="Amine peak at 1573 cm<sup>-1</sup>", showarrow=False,
                      xanchor=am_anchor, yanchor="middle", font=font(12.5, PEAK_BLUE)))
    for xv, top in ((1159, so_top), (1575, am_top)):
        shapes.append(dict(type="line", xref=xs, yref=ys, x0=xv, x1=xv, y0=0, y1=top - 0.05,
                           line=dict(color=DRED, width=1.4, dash="dash")))
        shapes.append(dict(type="path", xref=xs, yref=ys,
                           path=f"M {xv - 6},{top - 0.07} L {xv},{top} L {xv + 6},{top - 0.07} Z",
                           fillcolor=DRED, line=dict(color=DRED, width=1)))

raman_marks(*c_axes[5], (1138, 0.60), (1541, 0.92), "center", 0.50, 0.75)
raman_marks(*d_axes[6], (1143, 0.60), (1394, 0.89), "left", 0.48, 0.66)

# ---- Panel e (NMR)
xs, ys = setup(idx, 52, 825, 1133, 1558, (7.945, 7.069), nmr_ticks, 0.05,
               yrange=(0, 425), ticks="outside")
tick_labels(xs, nmr_ticks, 1574, 19, "{:.1f}")
e_data = [e1, e2, e3, e4, e5, e6, e7]
e_cols = ["#ff80ff", "#ff0a84", "#0a7a0a", "#ffff00", "#80ffff", "#ff7f00", "#000000"]
e_base = [369.7, 309, 248, 187.3, 126.3, 65.3, 4.7]
e_name_py = [1142.7, 1196.7, 1266.7, 1322.7, 1396, 1454.3, 1515.7]
for k in range(7):
    trace(xs, ys, e_data[k], e_cols[k], 2.6, "spline", offset=e_base[k])
    text_at(55, e_name_py[k], nmr_names[k], 12.3, xanchor="left")
for t, xv, yv in nmr_peak_labels:
    annos.append(dict(xref=xs, yref=ys, x=xv, y=yv, text=t, showarrow=False,
                      xanchor="center", yanchor="middle", font=font(13, "#2076c8")))

# ellipses and annotations in NMR
shapes.append(dict(type="circle", xref="paper", yref="paper", x0=PX(465), x1=PX(608),
                   y0=PY(1378), y1=PY(1140), line=dict(color=DRED, width=1.2, dash="dash")))
shapes.append(dict(type="circle", xref="paper", yref="paper", x0=PX(418), x1=PX(462),
                   y0=PY(1555), y1=PY(1376), line=dict(color=DRED, width=1.2, dash="dash")))
text_at(537.5, 1259, "No -NH<sub>2</sub> Protons", 12, "#b01818", angle=-90)
text_at(438, 1466, "-NH<sub>2</sub> Protons", 12, "#b01818", angle=-90)

def P(x, y):
    return f"{PX(x):.5f},{PY(y):.5f}"

arrow_path = ("M " + P(470, 1479) + " C " + P(510, 1497) + " " + P(567, 1490) + " " + P(565, 1402) +
              " L " + P(574, 1399) + " L " + P(557, 1381) + " L " + P(540, 1403) + " L " + P(549, 1404) +
              " C " + P(550, 1468) + " " + P(510, 1478) + " " + P(470, 1472) + " Z")
shapes.append(dict(type="path", xref="paper", yref="paper", path=arrow_path,
                   fillcolor="#3f6fbf", line=dict(color="#355fa8", width=1)))
# left frame continues below NMR axis
shapes.append(dict(type="line", xref="paper", yref="paper", x0=PX(52), x1=PX(52), y0=PY(1558), y1=PY(1610),
                   line=dict(color="black", width=1.6)))

# ---- Titles and panel letters
for t, x, y in [("a", 28, 23), ("b", 457, 24), ("c", 30, 586), ("d", 455, 588), ("e", 28, 1145)]:
    text_at(x, y, t, 19)
for t, x, y in [("% Transmitance", 17.5, 251), ("% Transmitance", 445, 251), ("Intensity", 27, 815), ("Intensity", 444.5, 815)]:
    text_at(x, y, t, 19, angle=-90)
for t, x, y in [("Wavenumber (cm<sup>-1</sup>)", 217, 541), ("Wavenumber (cm<sup>-1</sup>)", 640, 541),
                ("Raman Shift (cm<sup>-1</sup>)", 220, 1101), ("Raman Shift (cm<sup>-1</sup>)", 668, 1101),
                ("Chemical Shift (ppm)", 411, 1598)]:
    text_at(x, y, t, 19)

fig.update_layout(template="none", width=W, height=H, margin=dict(l=0, r=0, t=0, b=0, pad=0, autoexpand=False),
                  paper_bgcolor="white", plot_bgcolor="white", showlegend=False,
                  shapes=shapes, annotations=annos, **layout)
# remove the browser's default 8px page margin so the figure sits at the window origin
fig.write_html("out.html", config={"displayModeBar": False},
               post_script="document.body.style.margin='0px';document.body.style.overflow='hidden';")
